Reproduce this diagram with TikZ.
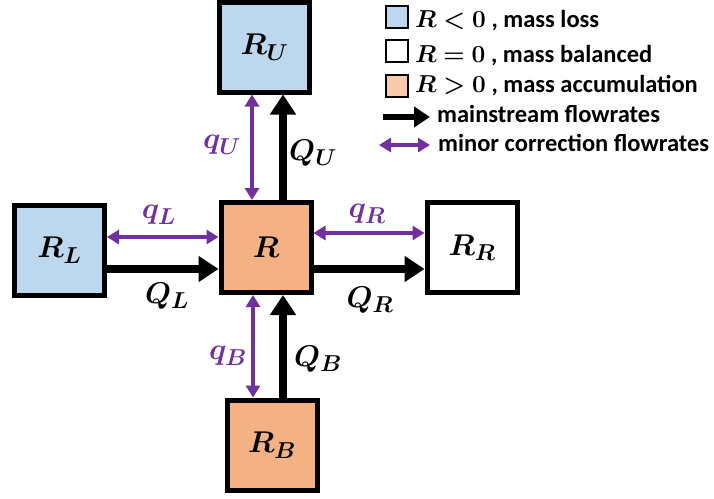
\RequirePackage{fix-cm}
\documentclass[tikz,border=0pt]{standalone}
\usepackage{amsmath,bm}
\usepackage[no-math]{fontspec}
\newfontfamily\lgdfont{Carlito}
\DeclareMathSizes{30}{30}{23}{17}
\usetikzlibrary{arrows.meta}
\definecolor{lblue}{HTML}{BDD7EE}
\definecolor{lorange}{HTML}{F4B183}
\definecolor{lgorange}{HTML}{F8CBAD}
\definecolor{purp}{HTML}{7030A0}
\begin{document}
\begin{tikzpicture}[x=1pt,y=-1pt,
  cell/.style={draw,line width=5pt,minimum size=90pt,inner sep=0pt,font=\fontsize{30}{32}\selectfont},
  mainflow/.style={line width=8pt,-{Triangle[length=20pt,width=25pt]}},
  minorflow/.style={purp,line width=3.5pt,{Triangle[length=12pt,width=14pt]}-{Triangle[length=12pt,width=14pt]}},
  lbl/.style={font=\fontsize{30}{32}\selectfont,inner sep=0pt},
  qlbl/.style={lbl,text=purp},
  keybox/.style={draw,line width=2pt,minimum size=22pt,inner sep=0pt},
  keytext/.style={anchor=base west,inner sep=0pt,font=\fontsize{24.5}{26}\selectfont\lgdfont\bfseries},
  keymain/.style={line width=6pt,-{Triangle[length=16pt,width=20pt]}},
  keyminor/.style={purp,line width=3.5pt,{Triangle[length=12pt,width=14pt]}-{Triangle[length=12pt,width=14pt]}}
]
\useasboundingbox (0,0) rectangle (714,498);
% cells
\node[cell,fill=lorange] (R)  at (266,247.5) {$\bm{R}$};
\node[cell,fill=lblue]   (RL) at (59.5,250)  {$\bm{R_L}$};
\node[cell,fill=lblue]   (RU) at (264.5,47)  {$\bm{R_U}$};
\node[cell,fill=lorange] (RB) at (272,445)   {$\bm{R_B}$};
\node[cell,fill=white]   (RR) at (472,247.5) {$\bm{R_R}$};
% mainstream flows
\draw[mainflow] (RL.east |- 0,269) -- (R.west |- 0,269);
\draw[mainflow] (R.east |- 0,269) -- (RR.west |- 0,269);
\draw[mainflow] (R.north -| 283,0) -- (RU.south -| 283,0);
\draw[mainflow] (RB.north -| 283,0) -- (R.south -| 283,0);
% minor corrections
\draw[minorflow] (RL.east |- 0,237) -- (R.west |- 0,237);
\draw[minorflow] (R.east |- 0,233) -- (RR.west |- 0,233);
\draw[minorflow] (R.north -| 252,0) -- (RU.south -| 252,0);
\draw[minorflow] (RB.north -| 253,0) -- (R.south -| 253,0);
% labels
\node[qlbl] (qL) at (159,215) {$\bm{q_L}$};
\node[lbl]  (QL) at (167,296) {$\bm{Q_L}$};
\node[qlbl] (qU) at (222,145) {$\bm{q_U}$};
\node[lbl]  (QU) at (313,153) {$\bm{Q_U}$};
\node[qlbl] (qB) at (228,356) {$\bm{q_B}$};
\node[lbl]  (QB) at (318,359) {$\bm{Q_B}$};
\node[qlbl] (qR) at (367,214) {$\bm{q_R}$};
\node[lbl]  (QR) at (370,300) {$\bm{Q_R}$};
% legend
\node[keybox,fill=lblue]    (k1) at (397,17) {};
\node[keybox,fill=white]    (k2) at (397,51) {};
\node[keybox,fill=lgorange] (k3) at (397,86) {};
\node[keytext] (t1) at (415,27) {$\bm{R<0}$ , mass loss};
\node[keytext] (t2) at (415,62) {$\bm{R=0}$ , mass balanced};
\node[keytext] (t3) at (415,92) {$\bm{R>0}$ , mass accumulation};
\coordinate (a1) at (383,117);
\coordinate (a2) at (430,117);
\coordinate (b1) at (379,145);
\coordinate (b2) at (430,145);
\draw[keymain] (a1) -- (a2);
\draw[keyminor] (b1) -- (b2);
\node[keytext] (t4) at (437,122) {mainstream flowrates};
\node[keytext] (t5) at (438,151) {minor correction flowrates};
\end{tikzpicture}
\end{document}
